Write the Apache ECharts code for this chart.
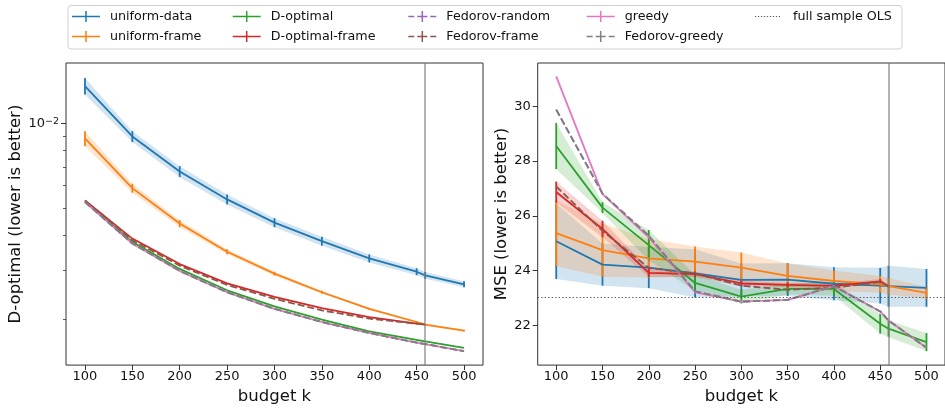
<!DOCTYPE html>
<html>
<head>
<meta charset="utf-8">
<script src="https://cdn.jsdelivr.net/npm/echarts@6/dist/echarts.min.js"></script>
<style>html,body{margin:0;padding:0;background:#fff}#c{width:945px;height:410px}</style>
</head>
<body>
<div id="c"></div>
<script>
// ---------- data ----------
const budgets = [100, 150, 200, 250, 300, 350, 400, 450, 459, 500];
const budgetTicks = [100, 150, 200, 250, 300, 350, 400, 450, 500];
const fullSampleSize = 459;
const olsMSE = 23.02;
const dTicks = [0.01];
const dMinorTicks = [0.002, 0.003, 0.004, 0.005, 0.006, 0.007, 0.008, 0.009];
const mseTicks = [22, 24, 26, 28, 30];

// left panel: D-optimal criterion (log scale)
const dUniformData    = [0.01360, 0.00899, 0.006741, 0.005362, 0.004431, 0.003805, 0.003304, 0.002961, 0.002874, 0.002671];
const dUniformDataErr = [0.00092, 0.000404, 0.000303, 0.000219, 0.000163, 0.00014, 0.000108, 0.0000847, 0.0000822, 0.0000654];
const dUniformFrame    = [0.008846, 0.005883, 0.004396, 0.003488, 0.002914, 0.002501, 0.002183, 0.001959, 0.001917, 0.001825];
const dUniformFrameErr = [0.000542, 0.000216, 0.000126, 0.0000712, 0.0000476, 0.0000307, 0.0000178, 0.0000128, 0.0000125, 0.0000119];
const dDOptimal       = [0.005276, 0.003784, 0.003029, 0.002542, 0.002226, 0.001997, 0.001815, 0.001690, 0.001672, 0.001583];
const dDOptimalFrame  = [0.005318, 0.003887, 0.003153, 0.002692, 0.002409, 0.002196, 0.002040, 0.001933, 0.001917];
const dFedorovRandom  = [0.005250, 0.003733, 0.002979, 0.002501, 0.002183, 0.001959, 0.001790, 0.001654, 0.001635, 0.001541];
const dFedorovFrame   = [0.005318, 0.003837, 0.003111, 0.002657, 0.002370, 0.002155, 0.002013, 0.001933, 0.001917];
const dGreedy         = [0.005250, 0.003733, 0.002979, 0.002501, 0.002183, 0.001959, 0.001790, 0.001654, 0.001635, 0.001541];
const dFedorovGreedy  = [0.005250, 0.003733, 0.002979, 0.002501, 0.002183, 0.001959, 0.001790, 0.001654, 0.001635, 0.001541];

// right panel: MSE
const mUniformData     = [25.07, 24.22, 24.11, 23.90, 23.66, 23.67, 23.52, 23.45, 23.43, 23.37];
const mUniformDataErr  = [1.38, 0.77, 0.75, 0.88, 0.60, 0.60, 0.60, 0.65, 0.75, 0.69];
const mUniformFrame    = [25.37, 24.75, 24.45, 24.33, 24.11, 23.81, 23.62, 23.50, 23.43, 23.19];
const mUniformFrameErr = [1.20, 0.97, 0.70, 0.55, 0.55, 0.45, 0.38, 0.30, 0.30, 0.22];
const mDOptimal        = [28.55, 26.30, 24.93, 23.55, 23.05, 23.33, 23.33, 22.06, 21.88, 21.39];
const mDOptimalErr     = [0.84, 0.20, 0.55, 0.30, 0.25, 0.20, 0.25, 0.36, 0.30, 0.33];
const mDOptimalFrame    = [26.87, 25.52, 23.92, 23.87, 23.53, 23.48, 23.44, 23.61, 23.43];
const mDOptimalFrameErr = [0.38, 0.30, 0.15, 0.10, 0.10, 0.08, 0.08, 0.08, 0.05];
const mFedorovRandom   = [29.88, 26.81, 25.27, 23.24, 22.87, 22.93, 23.43, 22.51, 22.18, 21.18];
const mFedorovFrame    = [27.07, 25.45, 24.10, 23.89, 23.45, 23.30, 23.38, 23.58, 23.43];
const mGreedy          = [31.09, 26.79, 25.21, 23.21, 22.87, 22.93, 23.43, 22.51, 22.18, 21.18];
const mFedorovGreedy   = [29.88, 26.81, 25.27, 23.24, 22.87, 22.93, 23.43, 22.51, 22.18, 21.18];

// ---------- styling ----------
const FONT = 'DejaVu Sans';
const C = {
  'uniform-data': '#1f77b4', 'uniform-frame': '#ff7f0e', 'D-optimal': '#2ca02c',
  'D-optimal-frame': '#d62728', 'Fedorov-random': '#9467bd', 'Fedorov-frame': '#8c564b',
  'greedy': '#e377c2', 'Fedorov-greedy': '#7f7f7f', 'full sample OLS': '#555555'
};
const DASHED = {'Fedorov-random': true, 'Fedorov-frame': true, 'Fedorov-greedy': true};
const LW = 1.8;

const methods = [
  ['uniform-data', dUniformData, dUniformDataErr, mUniformData, mUniformDataErr],
  ['uniform-frame', dUniformFrame, dUniformFrameErr, mUniformFrame, mUniformFrameErr],
  ['D-optimal', dDOptimal, null, mDOptimal, mDOptimalErr],
  ['D-optimal-frame', dDOptimalFrame, null, mDOptimalFrame, mDOptimalFrameErr],
  ['Fedorov-random', dFedorovRandom, null, mFedorovRandom, null],
  ['Fedorov-frame', dFedorovFrame, null, mFedorovFrame, null],
  ['greedy', dGreedy, null, mGreedy, null],
  ['Fedorov-greedy', dFedorovGreedy, null, mFedorovGreedy, null]
];

function bandSeries(name, axisIdx, yIdx, means, errs) {
  const color = C[name];
  const data = means.map((m, i) => [budgets[i], m - errs[i], m + errs[i]]);
  return {
    type: 'custom', name: name + ' (band)', xAxisIndex: axisIdx, yAxisIndex: yIdx,
    data: data, silent: true, clip: true, encode: {x: 0, y: [1, 2]},
    renderItem: function (params, api) {
      if (params.dataIndexInside !== 0) return null;
      const n = params.dataInsideLength;
      const up = [], lo = [], bars = [];
      for (let i = 0; i < n; i++) {
        const x = api.value(0, i);
        const a = api.coord([x, api.value(1, i)]);
        const b = api.coord([x, api.value(2, i)]);
        lo.push(a); up.push(b);
        bars.push({type: 'line', shape: {x1: a[0], y1: a[1], x2: b[0], y2: b[1]},
          style: {stroke: color, lineWidth: LW}});
      }
      const poly = {type: 'polygon', shape: {points: up.concat(lo.slice().reverse())},
        style: {fill: color, opacity: 0.2}};
      return {type: 'group', children: [poly].concat(bars)};
    }
  };
}
function lineSeries(name, axisIdx, yIdx, means) {
  const color = C[name];
  return {
    type: 'line', name: name, xAxisIndex: axisIdx, yAxisIndex: yIdx,
    data: means.map((m, i) => [budgets[i], m]),
    symbol: 'none', showSymbol: false, silent: true, clip: true,
    itemStyle: {color: color},
    lineStyle: {color: color, width: LW, type: DASHED[name] ? [7, 3] : 'solid', cap: 'butt', join: 'round'}
  };
}

const series = [];
methods.forEach(function (m) {
  const name = m[0];
  if (m[2]) series.push(bandSeries(name, 0, 0, m[1], m[2]));
  series.push(lineSeries(name, 0, 0, m[1]));
});
methods.forEach(function (m) {
  const name = m[0];
  if (m[4]) series.push(bandSeries(name, 1, 2, m[3], m[4]));
  series.push(lineSeries(name, 1, 2, m[3]));
});
const vLine = {silent: true, symbol: 'none', label: {show: false},
  lineStyle: {color: 'rgba(128,128,128,0.75)', width: 1.6, type: 'solid'},
  data: [{xAxis: fullSampleSize}]};
series.push({type: 'line', name: 'vline-left', xAxisIndex: 0, yAxisIndex: 0, data: [], markLine: vLine});
series.push({type: 'line', name: 'vline-right', xAxisIndex: 1, yAxisIndex: 2, data: [], markLine: vLine});
series.push({type: 'line', name: 'full sample OLS', xAxisIndex: 1, yAxisIndex: 2, data: [],
  itemStyle: {color: C['full sample OLS']},
  markLine: {silent: true, symbol: 'none', label: {show: false},
    lineStyle: {color: C['full sample OLS'], width: 1.1, type: [1.3, 2.2]},
    data: [{yAxis: olsMSE}]}});

// legend icons
const ICON_SOLID = 'path://M0,4.75H28V6.25H0Z M13.25,0H14.75V11H13.25Z';
const ICON_DASH = 'path://M0,4.75H6V6.25H0Z M9,4.75H19V6.25H9Z M22,4.75H28V6.25H22Z M13.25,0H14.75V11H13.25Z';
function ICON_DOT() {
  let p = 'path://';
  for (let x = 0; x < 25; x += 3) p += 'M' + x + ',0H' + (x + 1.2) + 'V1.2H' + x + 'Z ';
  return p;
}
function legendItem(name) {
  return {name: name, icon: DASHED[name] ? ICON_DASH : ICON_SOLID, itemStyle: {color: C[name]}};
}
const legendCols = [
  [72, ['uniform-data', 'uniform-frame']],
  [232.7, ['D-optimal', 'D-optimal-frame']],
  [408.3, ['Fedorov-random', 'Fedorov-frame']],
  [586.7, ['greedy', 'Fedorov-greedy']]
];
const legends = legendCols.map(function (c) {
  return {
    left: c[0], top: 10, orient: 'vertical', padding: 0, itemGap: 7,
    itemWidth: 28, itemHeight: 11, selectedMode: false,
    textStyle: {fontFamily: FONT, fontSize: 12.7, color: '#111', padding: [0, 0, 0, 5]},
    data: c[1].map(legendItem)
  };
});
legends.push({
  left: 755, top: 10, orient: 'vertical', padding: 0, itemGap: 7,
  itemWidth: 25, itemHeight: 1.2, selectedMode: false,
  textStyle: {fontFamily: FONT, fontSize: 12.7, color: '#111', padding: [0, 0, 0, 8]},
  data: [{name: 'full sample OLS', icon: ICON_DOT(), itemStyle: {color: C['full sample OLS']}}]
});

const labelStyle = {fontFamily: FONT, fontSize: 13, color: '#111'};
const nameStyle = {fontFamily: FONT, fontSize: 16.5, color: '#111'};
const tick = {show: true, inside: false, length: 5, lineStyle: {color: '#333', width: 1}};

function xAxis(gridIndex) {
  return {
    type: 'value', gridIndex: gridIndex, min: 80, max: 520,
    name: 'budget k', nameLocation: 'middle', nameGap: 21, nameTextStyle: nameStyle,
    axisLine: {show: false}, splitLine: {show: false},
    axisTick: Object.assign({customValues: budgetTicks}, tick),
    axisLabel: Object.assign({customValues: budgetTicks, margin: 5}, labelStyle)
  };
}

const option = {
  animation: false,
  backgroundColor: '#fff',
  graphic: [{
    type: 'rect', z: -10, silent: true,
    shape: {x: 68, y: 5.5, width: 834, height: 43.5, r: 3},
    style: {fill: 'rgba(255,255,255,0.8)', stroke: '#d0d0d0', lineWidth: 1}
  }],
  legend: legends,
  grid: [
    {left: 66, top: 63, width: 417, height: 304, show: true, borderColor: '#333', borderWidth: 1, backgroundColor: 'transparent', containLabel: false},
    {left: 537.7, top: 63, width: 417.3, height: 304, show: true, borderColor: '#333', borderWidth: 1, backgroundColor: 'transparent', containLabel: false}
  ],
  xAxis: [xAxis(0), xAxis(1)],
  yAxis: [
    {
      type: 'log', logBase: 10, gridIndex: 0, position: 'left', min: 0.001375, max: 0.01644,
      name: 'D-optimal (lower is better)', nameLocation: 'middle', nameGap: 41, nameTextStyle: nameStyle,
      axisLine: {show: false}, splitLine: {show: false}, minorTick: {show: false},
      axisTick: Object.assign({customValues: dTicks}, tick),
      axisLabel: Object.assign({
        customValues: dTicks, margin: 7,
        formatter: function (v) {
          const e = Math.round(Math.log10(v));
          return '10{sup|' + (e < 0 ? '\u2212' : '') + Math.abs(e) + '}';
        },
        rich: {sup: {fontFamily: FONT, fontSize: 9.5, verticalAlign: 'top', color: '#111'}}
      }, labelStyle)
    },
    {
      type: 'log', logBase: 10, gridIndex: 0, position: 'left', offset: 0, min: 0.001375, max: 0.01644,
      axisLine: {show: false}, splitLine: {show: false}, axisLabel: {show: false},
      axisTick: {show: true, inside: false, length: 3, customValues: dMinorTicks, lineStyle: {color: '#333', width: 0.8}}
    },
    {
      type: 'value', gridIndex: 1, position: 'left', min: 20.55, max: 31.58,
      name: 'MSE (lower is better)', nameLocation: 'middle', nameGap: 27, nameTextStyle: nameStyle,
      axisLine: {show: false}, splitLine: {show: false},
      axisTick: Object.assign({customValues: mseTicks}, tick),
      axisLabel: Object.assign({customValues: mseTicks, margin: 7}, labelStyle)
    }
  ],
  series: series
};

const chart = echarts.init(document.getElementById('c'), null, {renderer: 'canvas'});
chart.setOption(option);
</script>
</body>
</html>
